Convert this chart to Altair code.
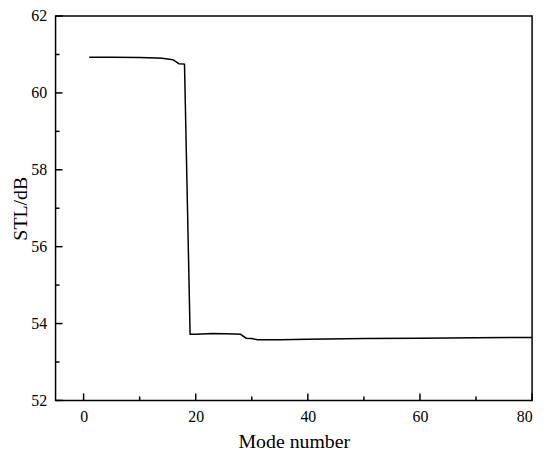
import altair as alt
import pandas as pd

# Data
modes = [1, 5, 10, 13, 14, 15, 16, 17, 18, 19, 20, 23, 27, 28, 29, 30, 31, 35, 40, 50, 60, 70, 80]
stl = [60.93, 60.93, 60.92, 60.91, 60.90, 60.88, 60.86, 60.76, 60.75,
       53.72, 53.72, 53.74, 53.73, 53.72, 53.62, 53.61, 53.58, 53.58,
       53.59, 53.61, 53.62, 53.63, 53.64]

x_major = [0, 20, 40, 60, 80]
x_minor = [10, 30, 50, 70]
y_major = [52, 54, 56, 58, 60, 62]
y_minor = [53, 55, 57, 59, 61]

W, H = 481, 388
FONT = "Liberation Serif"

df = pd.DataFrame({"mode": modes, "stl": stl})
xs = alt.Scale(domain=[-5, 80], nice=False, zero=False)
ys = alt.Scale(domain=[52, 62], nice=False, zero=False)

line = alt.Chart(df).mark_line(color="black", strokeWidth=1.5).encode(
    x=alt.X("mode:Q", scale=xs,
            axis=alt.Axis(values=x_major, title="Mode number", format="d")),
    y=alt.Y("stl:Q", scale=ys,
            axis=alt.Axis(values=y_major, title="STL/dB", format="d")),
)

def xticks(vals, length):
    return alt.Chart(pd.DataFrame({"v": vals})).mark_rule(color="black", strokeWidth=1.5).encode(
        x=alt.X("v:Q", scale=xs),
        y=alt.value(H), y2=alt.value(H - length),
    )

def yticks(vals, length):
    return alt.Chart(pd.DataFrame({"v": vals})).mark_rule(color="black", strokeWidth=1.5).encode(
        y=alt.Y("v:Q", scale=ys),
        x=alt.value(0), x2=alt.value(length),
    )

chart = alt.layer(
    xticks(x_major, 7), xticks(x_minor, 4),
    yticks(y_major, 7), yticks(y_minor, 4),
    line,
).properties(
    width=W, height=H,
    autosize=alt.AutoSizeParams(type="none"),
    padding={"left": 48, "top": 6, "right": 10, "bottom": 55},
).configure_view(
    stroke="black", strokeWidth=1.5
).configure_axis(
    domain=False, ticks=False, grid=False,
    labelFont=FONT, labelFontSize=16, labelColor="black",
    titleFont=FONT, titleFontSize=20, titleColor="black", titleFontWeight="normal",
).configure_axisX(
    labelPadding=8, titlePadding=8,
).configure_axisY(
    labelPadding=9, titlePadding=0,
)

chart.save("out.html", embed_options={"renderer": "svg", "actions": False})
